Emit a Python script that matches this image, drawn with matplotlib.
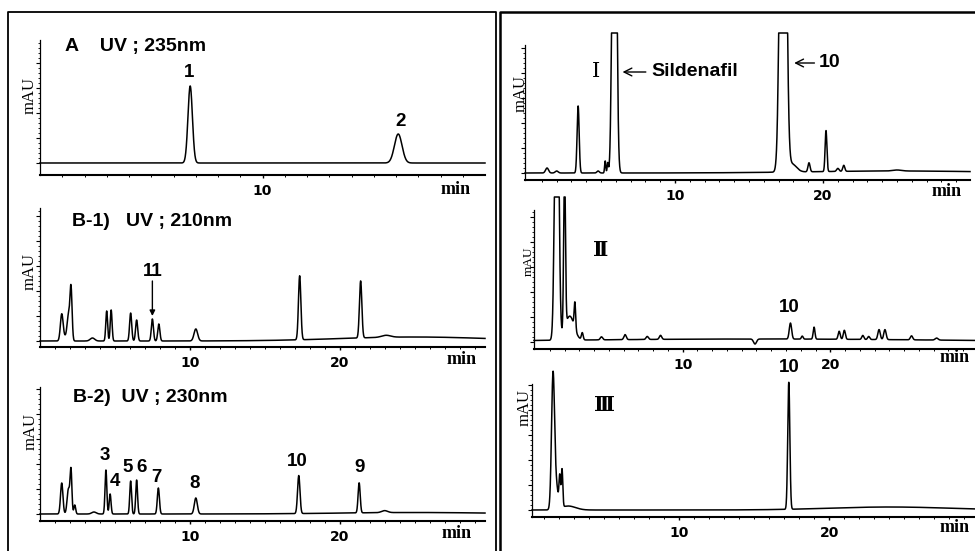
import numpy as np
import matplotlib.pyplot as plt
from matplotlib.lines import Line2D

W, H = 975, 551

# peak tables: retention time (min), height (mAU, arbitrary), width (sigma, min)
a_time = [6.75, 16.1]
a_height = [77, 29]
a_width = [0.10, 0.17]

b1_time = [1.45, 1.68, 1.9, 2.07, 3.5, 4.45, 4.75, 6.05, 6.45, 7.5, 7.93, 10.4, 17.33, 21.4, 23.1, 25.0]
b1_height = [26, 4, 24, 52, 3, 30, 31, 28, 21, 22, 17, 12, 64, 57, 2, 4]
b1_width = [0.09, 0.15, 0.09, 0.07, 0.15, 0.06, 0.06, 0.07, 0.07, 0.07, 0.07, 0.12, 0.08, 0.08, 0.3, 5.0]

b2_time = [1.45, 1.9, 2.07, 2.32, 3.6, 4.4, 4.68, 6.05, 6.45, 7.9, 10.4, 17.27, 21.3, 23.0, 25.0]
b2_height = [31, 25, 42, 9, 2, 44, 20, 33, 34, 26, 16, 38, 30, 2, 1.5]
b2_width = [0.08, 0.09, 0.06, 0.06, 0.15, 0.06, 0.06, 0.06, 0.06, 0.07, 0.10, 0.08, 0.07, 0.2, 5.0]

s1_time = [1.35, 2.0, 3.45, 4.8, 5.28, 5.45, 5.9, 17.3, 17.9, 19.05, 20.2, 21.0, 21.4, 25.0, 25.0]
s1_height = [5, 2, 67, 2, 12, 10, 600, 700, 8, 9, 41, 3, 6, 1, 2]
s1_width = [0.1, 0.1, 0.07, 0.08, 0.04, 0.04, 0.12, 0.17, 0.3, 0.07, 0.06, 0.08, 0.07, 0.3, 6.0]
s1_sat = 140

s2_time = [1.47, 2.0, 2.35, 2.7, 3.2, 4.5, 6.1, 7.6, 8.5, 14.9, 17.3, 18.1, 18.9,
           20.6, 20.95, 22.2, 22.6, 23.3, 23.7, 25.5, 27.2, 15.0]
s2_height = [400, 160, 24, 26, 7, 3, 5, 3, 4, -5, 16, 3, 12,
             8, 9, 4, 3, 10, 10, 4, 2, 3]
s2_width = [0.12, 0.06, 0.3, 0.05, 0.06, 0.08, 0.08, 0.08, 0.08, 0.1, 0.08, 0.06, 0.06,
            0.07, 0.07, 0.07, 0.07, 0.08, 0.08, 0.08, 0.1, 13.0]
s2_sat = 145

s3_time = [1.6, 1.82, 2.05, 2.2, 2.6, 17.3, 24.0]
s3_height = [134, 22, 30, 38, 4, 127, 3]
s3_width = [0.10, 0.12, 0.05, 0.05, 0.5, 0.07, 4.0]


def trace(t, times, heights, widths, sat=None):
    y = np.zeros_like(t)
    for c, h, w in zip(times, heights, widths):
        y += h * np.exp(-0.5 * ((t - c) / w) ** 2)
    if sat is not None:
        y = np.minimum(y, sat)
    return y


fig = plt.figure(figsize=(9.75, 5.51), dpi=100)


def px_axes(l, r, top, bot):
    return fig.add_axes([l / W, 1 - bot / H, (r - l) / W, (bot - top) / H])


def ftext(x, y, s, **kw):
    fig.text(x / W, 1 - y / H, s, **kw)


def fline(xs, ys, lw):
    fig.add_artist(Line2D([x / W for x in xs], [1 - y / H for y in ys], color='k', lw=lw))


def style(ax, xlim, ylim):
    ax.set_xlim(*xlim)
    ax.set_ylim(*ylim)
    ax.patch.set_alpha(0)
    ax.spines['top'].set_visible(False)
    ax.spines['right'].set_visible(False)
    ax.spines['left'].set_linewidth(0.9)
    ax.spines['bottom'].set_linewidth(1.5)
    ax.set_xticks([v for v in (10, 20) if v < xlim[1] - 1])
    ax.set_xticks(np.arange(1, xlim[1], 1), minor=True)
    ax.set_yticks(np.arange(0, ylim[1], 25))
    ax.set_yticks(np.arange(0, ylim[1], 5), minor=True)
    ax.tick_params(axis='x', which='major', length=2.5, width=1, pad=4, labelsize=10)
    ax.tick_params(axis='x', which='minor', length=1.5, width=0.7)
    ax.tick_params(axis='y', which='major', length=3, width=0.8, labelleft=False)
    ax.tick_params(axis='y', which='minor', length=1.5, width=0.6)
    for lab in ax.get_xticklabels():
        lab.set_fontweight('bold')
        lab.set_family('DejaVu Sans')


def plot_trace(ax, times, heights, widths, sat=None):
    x0, x1 = ax.get_xlim()
    t = np.linspace(x0, x1, 5000)
    ax.plot(t, trace(t, times, heights, widths, sat), color='k', lw=1.1, clip_on=False)


title = dict(family='Liberation Sans', fontweight='bold', fontsize=14)
bold = dict(family='Liberation Sans', fontweight='bold', fontsize=13.5)
roman = dict(family=['DejaVu Serif', 'Noto Sans CJK SC'], fontsize=15)

# ---- A
ax = px_axes(40, 485, 40, 175)
style(ax, (0, 20), (-12, 123))
plot_trace(ax, a_time, a_height, a_width)
ax.text(1.12, 116, 'A    UV ; 235nm', ha='left', va='center', **title)
ax.text(6.7, 90, '1', ha='center', va='center', **bold)
ax.text(16.2, 41, '2', ha='center', va='center', **bold)

# ---- B-1
ax = px_axes(40, 485, 208, 347)
style(ax, (0, 29.7), (-6, 133))
plot_trace(ax, b1_time, b1_height, b1_width)
ax.text(2.14, 119, 'B-1)   UV ; 210nm', ha='left', va='center', **title)
ax.text(7.55, 69, '11', ha='center', va='center', **bold)
ax.annotate('', xy=(7.5, 25), xytext=(7.5, 60),
            arrowprops=dict(arrowstyle='-|>', lw=1, color='k', mutation_scale=8, shrinkA=0, shrinkB=0))

# ---- B-2
ax = px_axes(40, 485, 387, 521)
style(ax, (0, 29.7), (-7, 127))
plot_trace(ax, b2_time, b2_height, b2_width)
ax.text(2.2, 116, 'B-2)  UV ; 230nm', ha='left', va='center', **title)
b2_labels = ['3', '4', '5', '6', '7', '8', '10', '9']
b2_lab_t = [4.34, 5.0, 5.87, 6.8, 7.8, 10.35, 17.15, 21.3]
b2_lab_y = [59, 32, 46, 46, 37, 31, 53, 46]
for s, tx, ty in zip(b2_labels, b2_lab_t, b2_lab_y):
    ax.text(tx, ty, s, ha='center', va='center', **bold)

# ---- I
ax = px_axes(525, 970, 45, 180)
style(ax, (-0.14, 29.93), (-7, 128))
plot_trace(ax, s1_time, s1_height, s1_width, s1_sat)
ax.text(4.65, 101, 'Ⅰ', ha='center', va='center', **roman)
ax.annotate('Sildenafil', xy=(6.45, 101), xytext=(8.4, 101), ha='left', va='center',
            arrowprops=dict(arrowstyle='->', lw=1, color='k', shrinkA=2, shrinkB=0), **title)
ax.annotate('10', xy=(18.05, 110), xytext=(19.7, 110), ha='left', va='center',
            arrowprops=dict(arrowstyle='->', lw=1, color='k', shrinkA=1, shrinkB=0), **title)

# ---- II
ax = px_axes(534, 975, 210, 349)
style(ax, (-0.07, 29.8), (-7, 132))
plot_trace(ax, s2_time, s2_height, s2_width, s2_sat)
ax.text(4.46, 92, 'Ⅱ', ha='center', va='center', fontweight='bold', **roman)
ax.text(17.23, 35, '10', ha='center', va='center', **bold)

# ---- III
ax = px_axes(532, 975, 384, 517)
style(ax, (0.2, 29.7), (-7, 126))
plot_trace(ax, s3_time, s3_height, s3_width)
ax.text(5.0, 105, 'Ⅲ', ha='center', va='center', fontweight='bold', **roman)
ax.text(17.3, 142, '10', ha='center', va='center', **bold)

# axis captions
for x, y, fs in [(30, 96, 12), (30, 271, 12), (31, 432, 12), (521, 94, 12), (529, 261, 9.5), (525, 408, 12)]:
    ftext(x, y, 'mAU', rotation=90, ha='center', va='center', family='Liberation Serif', fontsize=fs)
for x, y in [(456, 189), (462, 360), (457, 534), (947, 192), (955, 358), (955, 527)]:
    ftext(x, y, 'min', ha='center', va='center', family='Liberation Serif', fontweight='bold', fontsize=13)

# panel frames
fline([8, 8, 496, 496], [551, 12, 12, 551], 1.3)
fline([500, 500, 975], [551, 11.5, 11.5], 1.8)

fig.savefig('out.png', dpi=100)
